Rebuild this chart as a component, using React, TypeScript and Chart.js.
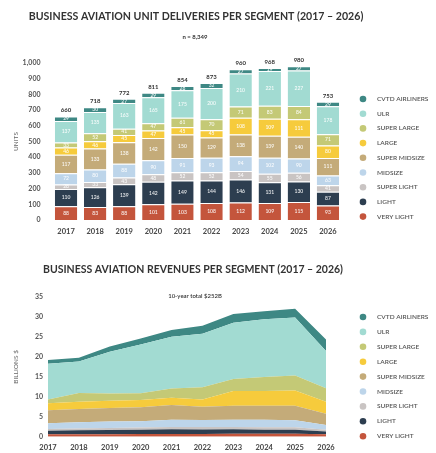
import React, { useEffect, useRef } from 'react';
import { Chart, registerables } from 'chart.js';

Chart.register(...registerables);

const YEARS = ['2017', '2018', '2019', '2020', '2021', '2022', '2023', '2024', '2025', '2026'];
const SEGMENTS = ['VERY LIGHT', 'LIGHT', 'SUPER LIGHT', 'MIDSIZE', 'SUPER MIDSIZE', 'LARGE', 'SUPER LARGE', 'ULR', 'CVTD AIRLINERS'];
const COLORS = ['#c4553c', '#2d3e50', '#c9c4c3', '#bdd5ea', '#c4ab79', '#f6cb3c', '#c4c976', '#a2dbd2', '#3e8884'];

// Unit deliveries per segment
const unitsVeryLight = [88, 83, 88, 101, 103, 108, 112, 109, 115, 93];
const unitsLight = [110, 126, 139, 142, 149, 144, 146, 131, 130, 87];
const unitsSuperLight = [28, 33, 43, 48, 52, 52, 54, 55, 56, 41];
const unitsMidsize = [72, 80, 88, 90, 91, 93, 94, 102, 90, 63];
const unitsSuperMidsize = [117, 133, 138, 142, 150, 129, 138, 139, 140, 111];
const unitsLarge = [46, 46, 45, 47, 45, 45, 108, 109, 111, 80];
const unitsSuperLarge = [33, 52, 41, 47, 61, 70, 71, 83, 84, 71];
const unitsULR = [137, 135, 163, 165, 175, 200, 210, 221, 227, 178];
const unitsCVTD = [29, 30, 27, 29, 28, 32, 27, 19, 27, 29];
const UNIT_SERIES = [unitsVeryLight, unitsLight, unitsSuperLight, unitsMidsize, unitsSuperMidsize, unitsLarge, unitsSuperLarge, unitsULR, unitsCVTD];

// Revenues per segment (billions $)
const revVeryLight = [0.6, 0.6, 0.6, 0.65, 0.7, 0.7, 0.75, 0.75, 0.75, 0.6];
const revLight = [0.9, 1.0, 1.1, 1.1, 1.15, 1.1, 1.1, 1.0, 1.0, 0.7];
const revSuperLight = [0.4, 0.45, 0.5, 0.55, 0.6, 0.6, 0.6, 0.6, 0.6, 0.45];
const revMidsize = [1.5, 1.6, 1.6, 1.6, 1.8, 1.8, 1.8, 1.9, 1.8, 1.2];
const revSuperMidsize = [3.2, 3.3, 3.4, 3.5, 3.7, 3.3, 3.5, 3.5, 3.6, 2.8];
const revLarge = [1.8, 1.8, 1.8, 1.8, 1.8, 1.8, 3.7, 3.7, 3.8, 3.0];
const revSuperLarge = [0.9, 2.2, 1.8, 1.7, 2.3, 3.1, 3.0, 3.5, 3.8, 3.4];
const revULR = [9.0, 7.9, 10.5, 12.2, 13.0, 13.4, 14.1, 14.5, 14.5, 9.3];
const revCVTD = [0.9, 0.9, 1.3, 1.5, 1.7, 2.0, 2.2, 2.0, 2.2, 2.9];
const REV_SERIES = [revVeryLight, revLight, revSuperLight, revMidsize, revSuperMidsize, revLarge, revSuperLarge, revULR, revCVTD];

const UNIT_TITLE = 'BUSINESS AVIATION UNIT DELIVERIES PER SEGMENT (2017 – 2026)';
const UNIT_SUBTITLE = 'n = 8,349';
const REV_TITLE = 'BUSINESS AVIATION REVENUES PER SEGMENT (2017 – 2026)';
const REV_SUBTITLE = '10-year total $252B';

const FONT = 'Lato, "Open Sans", sans-serif';

const textPlugin = {
  id: 'texts',
  afterDraw(chart: any, _args: any, opts: any) {
    const { ctx } = chart;
    ctx.save();
    ctx.textAlign = 'center';
    ctx.textBaseline = 'middle';
    (opts.items || []).forEach((it: any) => {
      ctx.font = it.font;
      ctx.fillStyle = it.color;
      ctx.fillText(it.text, it.x, it.y);
    });
    ctx.restore();
  },
};

const legendPlugin = {
  id: 'sideLegend',
  afterDraw(chart: any, _args: any, opts: any) {
    const { ctx } = chart;
    ctx.save();
    const n = SEGMENTS.length;
    for (let k = 0; k < n; k++) {
      const i = n - 1 - k;
      const cy = opts.y + k * opts.step;
      ctx.beginPath();
      ctx.arc(opts.x, cy, 3.3, 0, Math.PI * 2);
      ctx.fillStyle = COLORS[i];
      ctx.fill();
      ctx.font = '600 6.5px ' + FONT;
      ctx.fillStyle = '#555';
      ctx.textAlign = 'left';
      ctx.textBaseline = 'middle';
      ctx.fillText(SEGMENTS[i], opts.x + 14, cy);
    }
    ctx.restore();
  },
};

const barLabelPlugin = {
  id: 'barLabels',
  afterDatasetsDraw(chart: any) {
    const { ctx } = chart;
    ctx.save();
    ctx.textAlign = 'center';
    ctx.textBaseline = 'middle';
    const nDs = chart.data.datasets.length;
    chart.data.datasets.forEach((ds: any, di: number) => {
      const meta = chart.getDatasetMeta(di);
      meta.data.forEach((el: any, j: number) => {
        const v = ds.data[j];
        ctx.font = '600 5px ' + FONT;
        ctx.fillStyle = 'rgba(255,255,255,0.9)';
        ctx.fillText(String(v), el.x, (el.y + el.base) / 2);
      });
    });
    const topMeta = chart.getDatasetMeta(nDs - 1);
    topMeta.data.forEach((el: any, j: number) => {
      let total = 0;
      chart.data.datasets.forEach((ds: any) => (total += ds.data[j]));
      ctx.font = 'bold 6px ' + FONT;
      ctx.fillStyle = '#333';
      ctx.fillText(String(total), el.x, el.y - 6);
    });
    ctx.restore();
  },
};

function UnitsChart() {
  const ref = useRef<HTMLCanvasElement>(null);
  useEffect(() => {
    if (!ref.current) return;
    const chart = new Chart(ref.current, {
      type: 'bar',
      data: {
        labels: YEARS,
        datasets: UNIT_SERIES.map((d, i) => ({
          label: SEGMENTS[i],
          data: d,
          backgroundColor: COLORS[i],
          borderColor: '#ffffff',
          borderWidth: { top: 1, right: 0, bottom: 0, left: 0 },
          borderSkipped: false,
          categoryPercentage: 1,
          barPercentage: 0.77,
        })),
      },
      options: {
        responsive: false,
        animation: false,
        layout: { padding: { top: 63, right: 93.5, bottom: 0, left: 0 } },
        plugins: {
          legend: { display: false },
          tooltip: { enabled: false },
          texts: {
            items: [
              { text: UNIT_TITLE, x: 196, y: 17, font: 'bold 10.6px ' + FONT, color: '#333' },
              { text: UNIT_SUBTITLE, x: 195, y: 37, font: 'bold 6px ' + FONT, color: '#333' },
            ],
          },
          sideLegend: { x: 363, y: 99, step: 14.7 },
        } as any,
        scales: {
          x: {
            stacked: true,
            grid: { display: false, drawTicks: false },
            border: { display: false },
            ticks: { color: '#444', font: { family: FONT, size: 7.5, weight: 'bold' }, padding: 7 },
            afterFit: (s: any) => { s.height = 28; },
          },
          y: {
            stacked: true,
            min: 0,
            max: 1000,
            grid: { display: false, drawTicks: false },
            border: { display: false },
            ticks: {
              stepSize: 100,
              color: '#555',
              font: { family: FONT, size: 7, weight: 'bold' },
              padding: 11,
              callback: (v: any) => Number(v).toLocaleString('en-US'),
            },
            title: { display: true, text: 'UNITS', color: '#666', font: { family: FONT, size: 6.5 }, padding: { top: 12.5, bottom: 0 } },
            afterFit: (s: any) => { s.width = 51.5; },
          },
        },
      },
      plugins: [barLabelPlugin, textPlugin, legendPlugin],
    } as any);
    return () => chart.destroy();
  }, []);
  return <canvas ref={ref} width={436} height={248} style={{ display: 'block', width: 436, height: 248 }} />;
}

function RevenueChart() {
  const ref = useRef<HTMLCanvasElement>(null);
  useEffect(() => {
    if (!ref.current) return;
    const chart = new Chart(ref.current, {
      type: 'line',
      data: {
        labels: YEARS,
        datasets: REV_SERIES.map((d, i) => ({
          label: SEGMENTS[i],
          data: d,
          backgroundColor: COLORS[i],
          borderColor: COLORS[i],
          borderWidth: 0,
          pointRadius: 0,
          tension: 0,
          fill: i === 0 ? 'origin' : '-1',
        })),
      },
      options: {
        responsive: false,
        animation: false,
        layout: { padding: { top: 49, right: 110, bottom: 0, left: 0 } },
        plugins: {
          legend: { display: false },
          tooltip: { enabled: false },
          texts: {
            items: [
              { text: REV_TITLE, x: 193, y: 22, font: 'bold 10.5px ' + FONT, color: '#333' },
              { text: REV_SUBTITLE, x: 195, y: 48.5, font: '600 6px ' + FONT, color: '#333' },
            ],
          },
          sideLegend: { x: 363, y: 69, step: 14.9 },
        } as any,
        scales: {
          x: {
            offset: false,
            grid: { display: false, drawTicks: false },
            border: { display: false },
            ticks: { color: '#444', font: { family: FONT, size: 7.5, weight: 'bold' }, padding: 6 },
            afterFit: (s: any) => { s.height = 16.3; },
          },
          y: {
            stacked: true,
            min: 0,
            max: 35,
            grid: { display: false, drawTicks: false },
            border: { display: false },
            ticks: { stepSize: 5, color: '#555', font: { family: FONT, size: 7, weight: 'bold' }, padding: 5 },
            title: { display: true, text: 'BILLIONS $', color: '#666', font: { family: FONT, size: 6.5 }, padding: { top: 12.5, bottom: 0 } },
            afterFit: (s: any) => { s.width = 48; },
          },
        },
      },
      plugins: [textPlugin, legendPlugin],
    } as any);
    return () => chart.destroy();
  }, []);
  return <canvas ref={ref} width={436} height={205} style={{ display: 'block', width: 436, height: 205 }} />;
}

export default function App() {
  return (
    <div style={{ position: 'fixed', left: 0, top: 0, width: 436, height: 453, background: '#ffffff' }}>
      <UnitsChart />
      <RevenueChart />
    </div>
  );
}
